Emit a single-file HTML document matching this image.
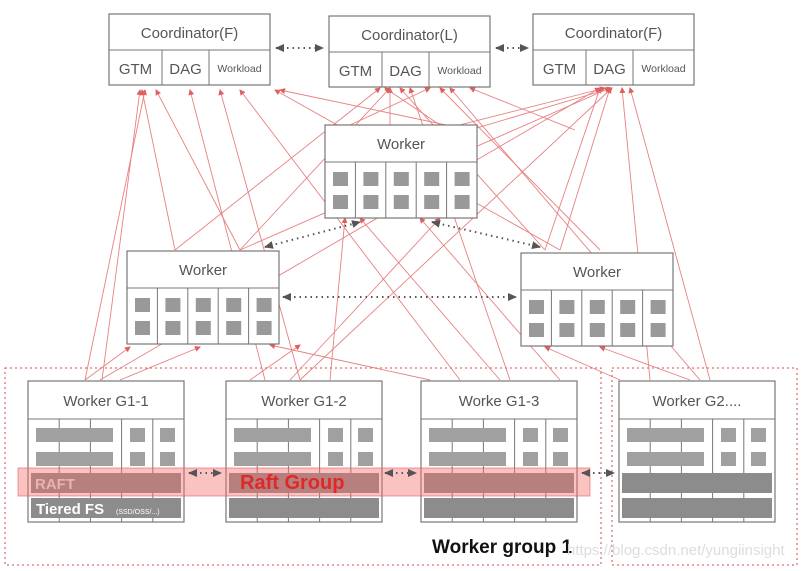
<!DOCTYPE html>
<html><head><meta charset="utf-8"><style>
html,body{margin:0;padding:0;background:#fff;width:805px;height:571px;overflow:hidden}
svg{display:block}
text{font-family:"Liberation Sans",sans-serif}
</style></head><body>
<svg id="s" width="805" height="571" xmlns="http://www.w3.org/2000/svg">
<defs>
<marker id="ar" markerWidth="6" markerHeight="6" refX="5" refY="3" orient="auto" markerUnits="userSpaceOnUse"><path d="M0,0 L6,3 L0,6z" fill="#e06060"/></marker>
<marker id="dk" markerWidth="9" markerHeight="8" refX="8" refY="4" orient="auto-start-reverse" markerUnits="userSpaceOnUse"><path d="M0,0 L9,4 L0,8z" fill="#555"/></marker>
</defs>
<g id="lines" stroke="#e88080" stroke-width="0.9" fill="none"></g>
<g id="boxes"></g>
</svg>
<script>
const NS="http://www.w3.org/2000/svg";
const L=document.getElementById('lines'),B=document.getElementById('boxes');
function el(p,t,a,txt){const e=document.createElementNS(NS,t);for(const k in a)e.setAttribute(k,a[k]);if(txt!=null)e.textContent=txt;p.appendChild(e);return e;}
// red connectors [x1,y1,x2,y2] arrow at end
const segs=[
[85,380,145,90],[102,380,140,90],[175,250,142,90],[240,250,156,90],[265,380,190,90],[300,380,220,90],[460,380,240,90],[560,250,275,90],[470,130,280,90],
[390,125,390,88],[440,125,385,88],[350,125,430,88],[175,250,380,88],[240,250,390,88],[545,250,400,88],[600,250,440,88],[510,380,410,88],[700,380,450,88],[575,130,470,88],
[545,250,600,88],[560,250,610,88],[650,380,622,88],[710,380,630,88],[300,380,612,88],[470,130,612,88],[440,130,605,88],[240,250,610,88],[100,380,600,88],
[85,380,130,347],[120,380,200,347],[250,380,300,345],[330,380,345,218],[290,380,440,218],[500,380,360,218],[560,380,420,218],[620,380,545,347],[690,380,600,347],[430,380,270,345]
];
for(const s of segs){el(L,'line',{x1:s[0],y1:s[1],x2:s[2],y2:s[3],'marker-end':'url(#ar)'});}
// dotted dark connectors
function dot(x1,y1,x2,y2){el(B,'line',{x1,y1,x2,y2,stroke:'#555','stroke-width':2,'stroke-dasharray':'1.5 4','marker-start':'url(#dk)','marker-end':'url(#dk)'});}
function coord(x,y,title){
 el(B,'rect',{x,y,width:161,height:71,fill:'#fff',stroke:'#777','stroke-width':1.2});
 el(B,'line',{x1:x,y1:y+36,x2:x+161,y2:y+36,stroke:'#777'});
 el(B,'line',{x1:x+53,y1:y+36,x2:x+53,y2:y+71,stroke:'#777'});
 el(B,'line',{x1:x+100,y1:y+36,x2:x+100,y2:y+71,stroke:'#777'});
 el(B,'text',{x:x+80.5,y:y+24,'text-anchor':'middle','font-size':15,fill:'#555'},title);
 el(B,'text',{x:x+26.5,y:y+60,'text-anchor':'middle','font-size':15,fill:'#555'},'GTM');
 el(B,'text',{x:x+76.5,y:y+60,'text-anchor':'middle','font-size':15,fill:'#555'},'DAG');
 el(B,'text',{x:x+130.5,y:y+58,'text-anchor':'middle','font-size':10.5,fill:'#555'},'Workload');
}
function worker(x,y){
 const w=152,h=93;
 el(B,'rect',{x,y,width:w,height:h,fill:'#fff',stroke:'#777','stroke-width':1.2});
 el(B,'line',{x1:x,y1:y+37,x2:x+w,y2:y+37,stroke:'#777'});
 el(B,'text',{x:x+w/2,y:y+24,'text-anchor':'middle','font-size':15,fill:'#555'},'Worker');
 for(let i=0;i<5;i++){const cx=x+i*w/5;if(i)el(B,'line',{x1:cx,y1:y+37,x2:cx,y2:y+h,stroke:'#777'});
  el(B,'rect',{x:cx+8,y:y+47,width:15,height:14,fill:'#999'});el(B,'rect',{x:cx+8,y:y+70,width:15,height:14,fill:'#999'});}
}
function bw(x,title,full){
 const y=381,w=156,h=141;
 el(B,'rect',{x,y,width:w,height:h,fill:'#fff',stroke:'#777','stroke-width':1.2});
 el(B,'line',{x1:x,y1:y+38,x2:x+w,y2:y+38,stroke:'#777'});
 el(B,'text',{x:x+w/2,y:y+25,'text-anchor':'middle','font-size':15,fill:'#555'},title);
 for(let i=1;i<5;i++){const cx=x+i*w/5;el(B,'line',{x1:cx,y1:y+38,x2:cx,y2:y+h,stroke:'#777'});}
 el(B,'rect',{x:x+8,y:428,width:77,height:14,fill:'#a0a0a0'});
 el(B,'rect',{x:x+8,y:452,width:77,height:14,fill:'#a0a0a0'});
 for(const cx of [x+102,x+132]){el(B,'rect',{x:cx,y:428,width:15,height:14,fill:'#a0a0a0'});el(B,'rect',{x:cx,y:452,width:15,height:14,fill:'#a0a0a0'});}
 el(B,'rect',{x:x+3,y:473,width:w-6,height:20,fill:'#8c8c8c'});
 el(B,'rect',{x:x+3,y:498,width:w-6,height:20,fill:'#8c8c8c'});
}
// group boxes
el(B,'rect',{x:5,y:368,width:596,height:197,fill:'none',stroke:'#e07070','stroke-width':1.3,'stroke-dasharray':'2 3'});
el(B,'rect',{x:612,y:368,width:185,height:197,fill:'none',stroke:'#e07070','stroke-width':1.3,'stroke-dasharray':'2 3'});
coord(109,14,'Coordinator(F)');coord(329,16,'Coordinator(L)');coord(533,14,'Coordinator(F)');
dot(276,48,323,48);dot(496,48,528,48);
worker(325,125);worker(127,251);worker(521,253);
dot(265,247,360,222);dot(432,222,540,247);dot(283,297,516,297);
bw(28,'Worker G1-1');bw(226,'Worker G1-2');bw(421,'Worke G1-3');bw(619,'Worker G2....');
// raft band
el(B,'rect',{x:18,y:468,width:572,height:28,fill:'rgba(245,110,110,0.42)',stroke:'rgba(230,90,90,0.6)'});
el(B,'text',{x:35,y:489,'font-size':15,'font-weight':'bold',fill:'#e9b3b3'},'RAFT');
el(B,'text',{x:240,y:489,'font-size':20,'font-weight':'bold',fill:'#e02828'},'Raft Group');
el(B,'text',{x:36,y:514,'font-size':15,'font-weight':'bold',fill:'#fff'},'Tiered FS');
el(B,'text',{x:116,y:514,'font-size':7,fill:'#fff'},'(SSD/OSS/...)');
dot(189,473,221,473);dot(385,473,416,473);dot(582,473,614,473);
el(B,'text',{x:432,y:553,'font-size':19,'font-weight':'bold',fill:'#111'},'Worker group 1');
el(B,'text',{x:567,y:555,'font-size':15,fill:'#ddd'},'https://blog.csdn.net/yungiinsight');
</script>
</body></html>
